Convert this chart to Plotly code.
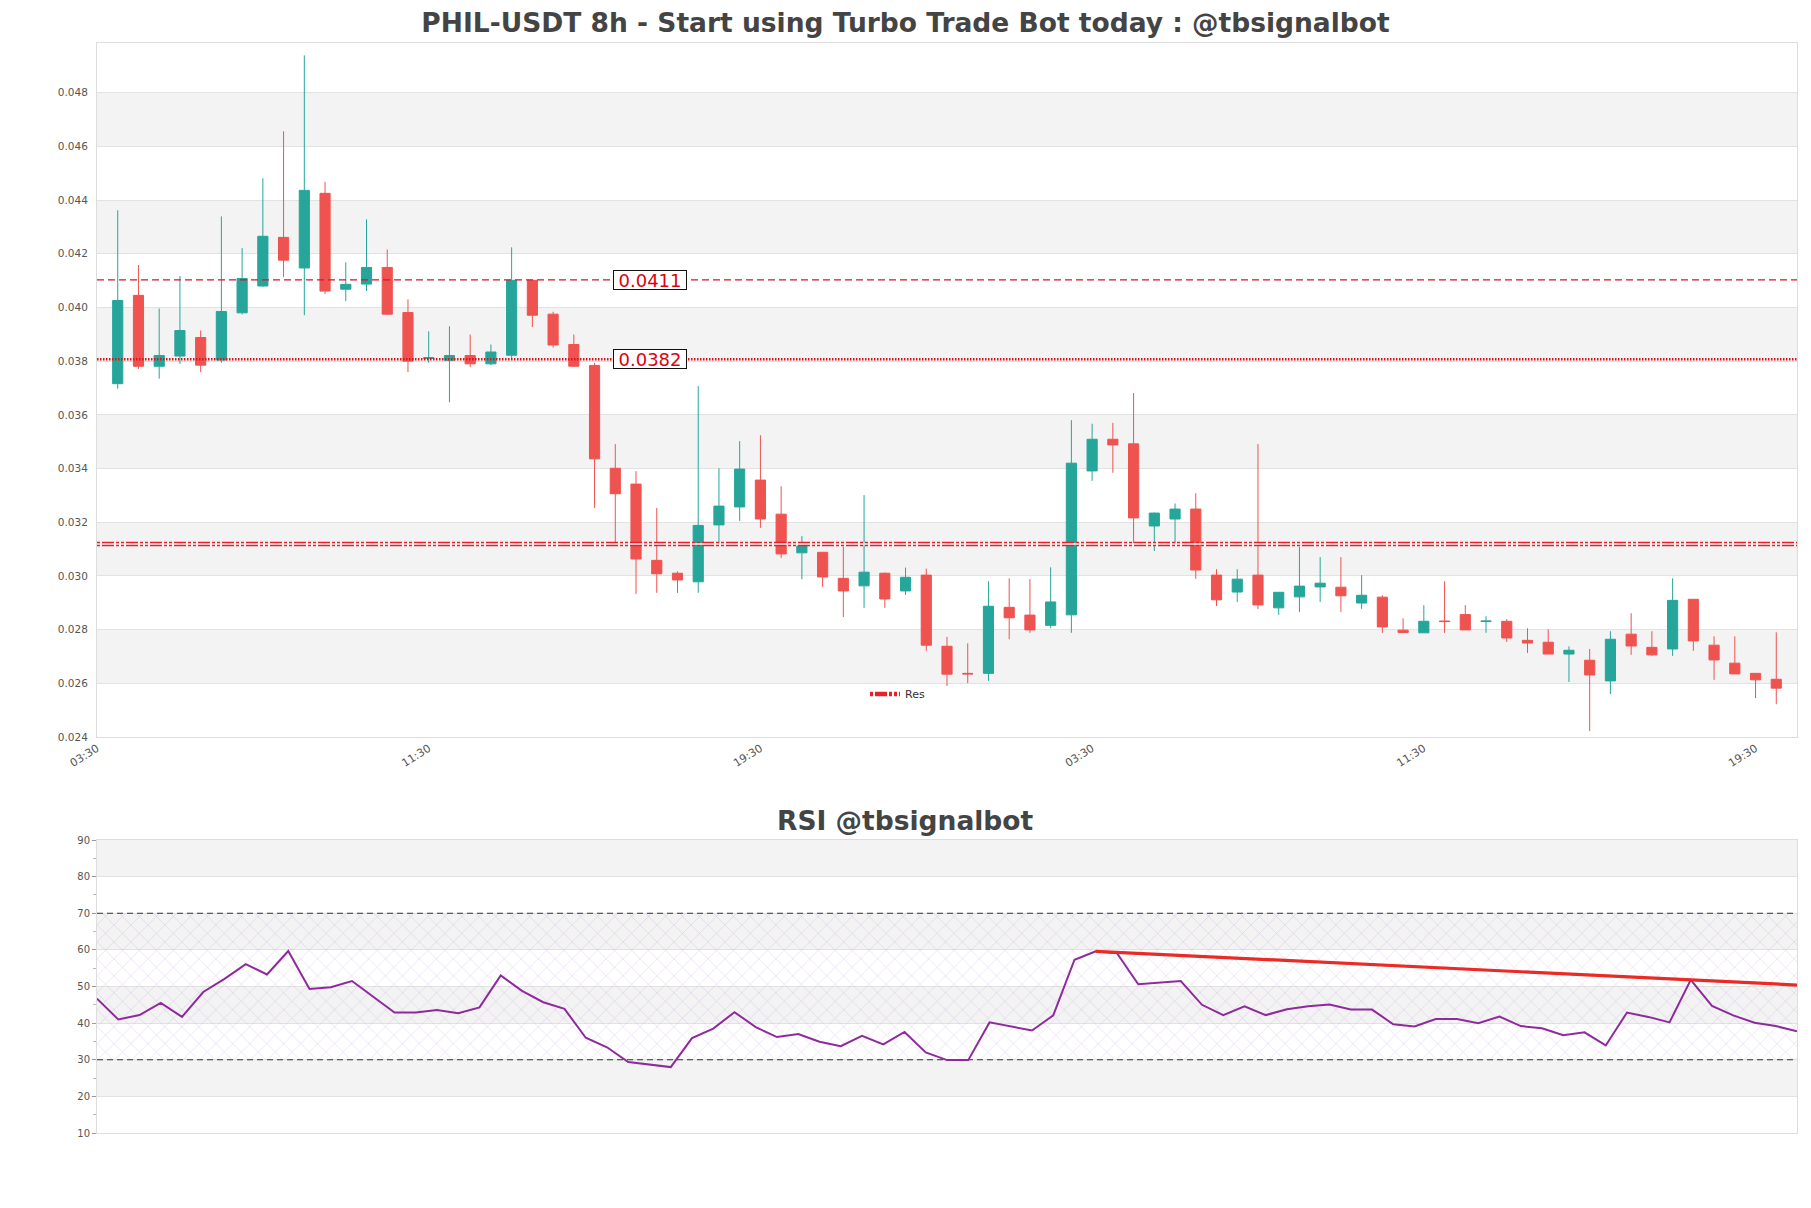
import plotly.graph_objects as go

# ── data ──────────────────────────────────────────────────────────────────────
opens = [0.03716, 0.04045, 0.03781, 0.03819, 0.03888, 0.03804, 0.03980, 0.04080, 0.04261, 0.04147,
         0.04425, 0.04068, 0.04087, 0.04149, 0.03981, 0.03810, 0.03803, 0.03821, 0.03790, 0.03822,
         0.04101, 0.03975, 0.03862, 0.03784, 0.03401, 0.03342, 0.03058, 0.03010, 0.02978, 0.03190,
         0.03257, 0.03357, 0.03230, 0.03086, 0.03088, 0.02991, 0.02963, 0.03010, 0.02944, 0.03003,
         0.02738, 0.02637, 0.02637, 0.02883, 0.02854, 0.02816, 0.02855, 0.03391, 0.03509, 0.03492,
         0.03186, 0.03212, 0.03249, 0.03003, 0.02940, 0.03003, 0.02881, 0.02922, 0.02959, 0.02958,
         0.02899, 0.02921, 0.02798, 0.02788, 0.02832, 0.02856, 0.02830, 0.02831, 0.02760, 0.02753,
         0.02709, 0.02686, 0.02609, 0.02783, 0.02734, 0.02728, 0.02913, 0.02742, 0.02675, 0.02637,
         0.02615]
highs = [0.04362, 0.04158, 0.03996, 0.04117, 0.03914, 0.04339, 0.04221, 0.04481, 0.04656, 0.04939,
         0.04468, 0.04168, 0.04328, 0.04216, 0.04030, 0.03911, 0.03930, 0.03899, 0.03862, 0.04224,
         0.04101, 0.03984, 0.03899, 0.03794, 0.03491, 0.03390, 0.03253, 0.03017, 0.03707, 0.03401,
         0.03502, 0.03524, 0.03334, 0.03149, 0.03088, 0.03108, 0.03301, 0.03013, 0.03031, 0.03027,
         0.02773, 0.02749, 0.02980, 0.02991, 0.02988, 0.03032, 0.03580, 0.03567, 0.03570, 0.03681,
         0.03236, 0.03270, 0.03308, 0.03025, 0.03025, 0.03491, 0.02939, 0.03108, 0.03070, 0.03070,
         0.03003, 0.02928, 0.02842, 0.02891, 0.02980, 0.02891, 0.02850, 0.02839, 0.02805, 0.02801,
         0.02738, 0.02728, 0.02794, 0.02861, 0.02794, 0.02991, 0.02913, 0.02775, 0.02775, 0.02637,
         0.02790]
lows = [0.03697, 0.03771, 0.03735, 0.03790, 0.03759, 0.03794, 0.03974, 0.04077, 0.04113, 0.03971,
        0.04050, 0.04024, 0.04061, 0.03972, 0.03759, 0.03794, 0.03647, 0.03778, 0.03785, 0.03806,
        0.03927, 0.03850, 0.03778, 0.03253, 0.03114, 0.02933, 0.02937, 0.02937, 0.02937, 0.03121,
        0.03205, 0.03179, 0.03067, 0.02988, 0.02959, 0.02847, 0.02881, 0.02881, 0.02929, 0.02721,
        0.02590, 0.02601, 0.02609, 0.02764, 0.02788, 0.02805, 0.02788, 0.03354, 0.03384, 0.03121,
        0.03093, 0.03121, 0.02989, 0.02888, 0.02903, 0.02877, 0.02855, 0.02866, 0.02903, 0.02866,
        0.02877, 0.02788, 0.02788, 0.02788, 0.02788, 0.02799, 0.02788, 0.02754, 0.02713, 0.02709,
        0.02605, 0.02422, 0.02560, 0.02706, 0.02702, 0.02702, 0.02721, 0.02613, 0.02635, 0.02545,
        0.02522]
closes = [0.04026, 0.03781, 0.03821, 0.03914, 0.03785, 0.03985, 0.04108, 0.04265, 0.04176, 0.04436,
          0.04061, 0.04086, 0.04149, 0.03975, 0.03800, 0.03813, 0.03821, 0.03790, 0.03834, 0.04101,
          0.03971, 0.03860, 0.03781, 0.03436, 0.03306, 0.03063, 0.03008, 0.02985, 0.03188, 0.03260,
          0.03398, 0.03212, 0.03082, 0.03111, 0.02996, 0.02944, 0.03014, 0.02914, 0.02995, 0.02742,
          0.02634, 0.02635, 0.02887, 0.02844, 0.02799, 0.02903, 0.03420, 0.03509, 0.03488, 0.03216,
          0.03234, 0.03249, 0.03022, 0.02911, 0.02988, 0.02892, 0.02939, 0.02962, 0.02973, 0.02926,
          0.02928, 0.02810, 0.02789, 0.02831, 0.02830, 0.02799, 0.02832, 0.02769, 0.02750, 0.02709,
          0.02723, 0.02631, 0.02764, 0.02739, 0.02706, 0.02909, 0.02758, 0.02687, 0.02635, 0.02613,
          0.02582]

rsi = [46.7, 41.0, 42.2, 45.5, 41.7, 48.5, 52.1, 56.1, 53.3, 59.7,
       49.3, 49.8, 51.5, 47.1, 42.9, 42.9, 43.6, 42.7, 44.3, 53.0,
       48.8, 45.7, 43.9, 36.0, 33.4, 29.4, 28.7, 28.0, 35.9, 38.5,
       43.0, 38.9, 36.2, 37.0, 34.9, 33.7, 36.5, 34.2, 37.6, 32.0,
       29.9, 29.9, 40.2, 39.1, 38.0, 42.1, 57.3, 59.6, 59.1, 50.6,
       51.0, 51.5, 45.0, 42.2, 44.6, 42.2, 43.8, 44.6, 45.1, 43.7,
       43.7, 39.7, 39.1, 41.1, 41.1, 40.0, 41.8, 39.2, 38.6, 36.7,
       37.5, 33.9, 42.9, 41.7, 40.2, 51.8, 44.7, 42.1, 40.1, 39.2,
       37.8]

idx = list(range(len(opens)))

tick_pos = [-1, 15, 31, 47, 63, 79]
tick_text = ["03:30", "11:30", "19:30", "03:30", "11:30", "19:30"]

level_a, level_a_label = 0.04103, "0.0411"
level_b, level_b_label = 0.03807, "0.0382"
res_level = 0.03119

trend_x = [47, 80]
trend_y = [59.6, 50.4]

# ── figure ────────────────────────────────────────────────────────────────────
# the html page puts an 8px body margin round the plot, so draw 16px smaller
PAGE_OFF = 8
W, H = 1811 - 2 * PAGE_OFF, 1208 - 2 * PAGE_OFF


def fx(px):
    return (px - PAGE_OFF) / W


def fy(py):
    return 1 - (py - PAGE_OFF) / H


FONT = "DejaVu Sans, sans-serif"
UP, DOWN = "#26a69a", "#ef5350"

fig = go.Figure()

fig.add_trace(go.Candlestick(
    x=idx, open=opens, high=highs, low=lows, close=closes,
    increasing=dict(line=dict(color=UP, width=1), fillcolor=UP),
    decreasing=dict(line=dict(color=DOWN, width=1), fillcolor=DOWN),
    whiskerwidth=0, showlegend=False, xaxis="x", yaxis="y",
))

# horizontal levels
x_span = [-1, 81]
fig.add_trace(go.Scatter(x=x_span, y=[level_a] * 2, mode="lines", showlegend=False,
                         line=dict(color="#d4142c", width=1.3, dash="7px,4px")))
fig.add_trace(go.Scatter(x=x_span, y=[level_b] * 2, mode="lines", showlegend=False,
                         line=dict(color="#e0101a", width=2.6, dash="1.5px,1.5px")))
fig.add_trace(go.Scatter(x=x_span, y=[res_level] * 2, mode="lines", name="Res",
                         line=dict(color="#e8202a", width=4.5, dash="3px,2px,12px,2px,3px,2px")))
fig.add_trace(go.Scatter(x=x_span, y=[res_level] * 2, mode="lines", showlegend=False,
                         hoverinfo="skip", line=dict(color="#f6f6f6", width=1.5)))

# RSI hatch band 30-70
fig.add_trace(go.Scatter(x=[0, 80], y=[30, 30], mode="lines", line=dict(width=0),
                         showlegend=False, xaxis="x2", yaxis="y2", hoverinfo="skip"))
fig.add_trace(go.Scatter(x=[0, 80], y=[70, 70], mode="lines", line=dict(width=0),
                         fill="tonexty", fillcolor="rgba(0,0,0,0)",
                         fillpattern=dict(shape="x", size=12, solidity=0.08,
                                          fgcolor="rgba(160,120,195,0.75)",
                                          bgcolor="rgba(0,0,0,0)"),
                         showlegend=False, xaxis="x2", yaxis="y2", hoverinfo="skip"))
for lvl in (70, 30):
    fig.add_trace(go.Scatter(x=[0, 80], y=[lvl, lvl], mode="lines", showlegend=False,
                             line=dict(color="#333", width=1.2, dash="6px,4px"),
                             xaxis="x2", yaxis="y2"))
fig.add_trace(go.Scatter(x=idx, y=rsi, mode="lines", showlegend=False,
                         line=dict(color="#8e2a9c", width=2), xaxis="x2", yaxis="y2"))
fig.add_trace(go.Scatter(x=trend_x, y=trend_y, mode="lines", showlegend=False,
                         line=dict(color="#ea2a24", width=3.2), xaxis="x2", yaxis="y2"))

# alternating bands
shapes = []
for lo in [0.026, 0.030, 0.034, 0.038, 0.042, 0.046]:
    shapes.append(dict(type="rect", xref="x domain", yref="y", x0=0, x1=1, y0=lo, y1=lo + 0.002,
                       fillcolor="#f3f3f3", line=dict(width=0), layer="below"))
for lo in [20, 40, 60, 80]:
    shapes.append(dict(type="rect", xref="x2 domain", yref="y2", x0=0, x1=1, y0=lo, y1=lo + 10,
                       fillcolor="#f3f3f3", line=dict(width=0), layer="below"))

# label boxes on the levels
annotations = []
for lvl, txt in ((level_a, level_a_label), (level_b, level_b_label)):
    annotations.append(dict(x=25.65, y=lvl, xref="x", yref="y", text=txt, showarrow=False,
                            font=dict(family=FONT, size=18, color="#e00010"),
                            width=72, height=18, bgcolor="white",
                            bordercolor="#111", borderwidth=1, borderpad=0))
annotations.append(dict(x=fx(905.5), y=fy(820), xref="paper", yref="paper",
                        xanchor="center", yanchor="middle",
                        text="RSI @tbsignalbot", showarrow=False,
                        font=dict(family=FONT, size=26.5, color="#444", weight="bold")))

fig.update_layout(
    width=W, height=H,
    margin=dict(l=0, r=0, t=0, b=0),
    paper_bgcolor="white", plot_bgcolor="white",
    font=dict(family=FONT, color="#555"),
    title=dict(text="PHIL-USDT 8h - Start using Turbo Trade Bot today : @tbsignalbot",
               x=fx(905.5), xanchor="center", y=fy(23), yanchor="middle",
               font=dict(family=FONT, size=26.5, color="#444", weight="bold")),
    xaxis=dict(domain=[fx(97), fx(1797)], anchor="y", range=[-1, 81], automargin=False,
               rangeslider=dict(visible=False), showgrid=False, zeroline=False,
               tickmode="array", tickvals=tick_pos, ticktext=tick_text, tickangle=-32,
               tickfont=dict(size=11, color="#555"), ticks="",
               showline=True, linecolor="#ddd", mirror=True),
    yaxis=dict(domain=[fy(737), fy(43)], anchor="x", range=[0.024, 0.04985],
               automargin=False,
               tick0=0.024, dtick=0.002, tickformat=".3f", showgrid=True, gridcolor="#e2e2e2",
               zeroline=False, tickfont=dict(size=10.5, color="#555"), ticklabelstandoff=6,
               showline=True, linecolor="#ddd", mirror=True),
    xaxis2=dict(domain=[fx(97), fx(1797)], anchor="y2", range=[0, 80], showticklabels=False,
                automargin=False,
                showgrid=False, zeroline=False, showline=True, linecolor="#ddd", mirror=True),
    yaxis2=dict(domain=[fy(1133), fy(840)], anchor="x2", range=[10, 90], dtick=10,
                automargin=False,
                showgrid=True, gridcolor="#e2e2e2", zeroline=False,
                ticks="outside", ticklen=4, tickcolor="#999",
                minor=dict(dtick=5, ticks="outside", ticklen=3, tickcolor="#bbb", showgrid=False),
                tickfont=dict(size=10, color="#555"),
                showline=True, linecolor="#ddd", mirror=True),
    legend=dict(x=fx(865), y=fy(694), xanchor="left", yanchor="middle",
                bgcolor="rgba(0,0,0,0)", itemwidth=30, font=dict(size=11, color="#333")),
    shapes=shapes,
    annotations=annotations,
    showlegend=True,
)

fig.write_html("out.html")
